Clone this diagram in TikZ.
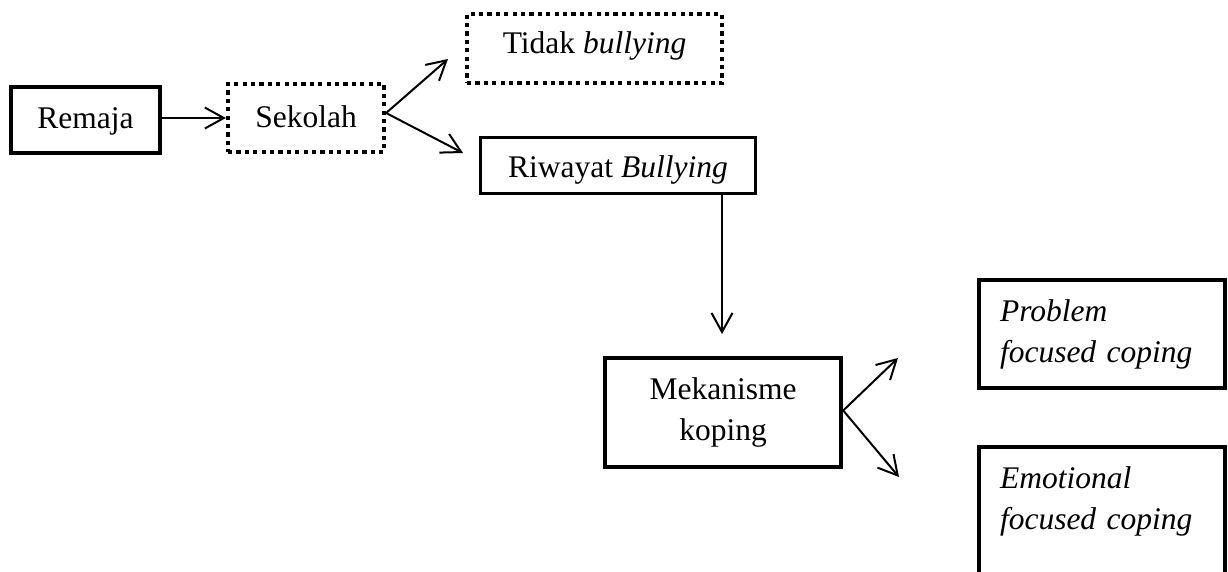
\documentclass[tikz,border=0pt]{standalone}
\usepackage{fontspec}
\setmainfont{Liberation Serif}
\usetikzlibrary{arrows.meta}
\begin{document}
\begin{tikzpicture}[x=1pt,y=-1pt,
  every node/.style={font=\fontsize{31.5}{41}\selectfont, inner sep=0pt},
  thickbox/.style={draw, line width=4.4pt},
  thinbox/.style={draw, line width=3pt},
  dotbox/.style={draw, line width=4.2pt, dash pattern=on 4.2pt off 4.2pt},
  arr/.style={line width=2pt, -{Straight Barb[length=19pt,width=21pt,line width=2pt]}}
]
\useasboundingbox (0,0) rectangle (1228,571);
\clip (0,0) rectangle (1228,571);

\node[thickbox, minimum width=149pt, minimum height=66pt, text height=22pt, text depth=6pt] (remaja) at (85.5,120) {Remaja};
\node[dotbox, minimum width=156pt, minimum height=68pt, text height=22pt, text depth=4pt] (sekolah) at (306,118) {Sekolah};
\node[dotbox, minimum width=255pt, minimum height=69pt, text height=16pt, text depth=7pt] (tidak) at (594.5,48.5) {Tidak \textit{bullying}};
\node[thinbox, minimum width=275pt, minimum height=56pt, text height=30pt, text depth=7pt] (riwayat) at (618,165.5) {Riwayat \textit{Bullying}};
\node[thickbox, minimum width=236pt, minimum height=109pt, align=center] (mek) at (723,412.5) {Mekanisme\\koping};
\node[thickbox, text width=204pt, inner xsep=21pt, minimum height=108pt, align=left] (problem) at (1102,334) {\textit{Problem}\\\textit{focused coping}};
\node[thickbox, text width=204pt, inner xsep=21pt, inner ysep=19.5pt, text height=21.5pt, text depth=130pt, align=left, anchor=north] (emotional) at (1102,445) {\textit{Emotional}\\\textit{focused coping}};

\coordinate (t1) at (448,59);
\coordinate (t2) at (463,153);
\coordinate (t3) at (722,334);
\coordinate (t4) at (898,358);
\coordinate (t5) at (899,477);

\draw[arr] (sekolah.west -| remaja.east) -- (sekolah.west);
\draw[arr] ([yshift=5pt]sekolah.east) -- (t1);
\draw[arr] ([yshift=5pt]sekolah.east) -- (t2);
\draw[arr] (riwayat.south -| t3) -- (t3);
\draw[arr] ([yshift=2pt]mek.east) -- (t4);
\draw[arr] ([yshift=2pt]mek.east) -- (t5);
\end{tikzpicture}
\end{document}
